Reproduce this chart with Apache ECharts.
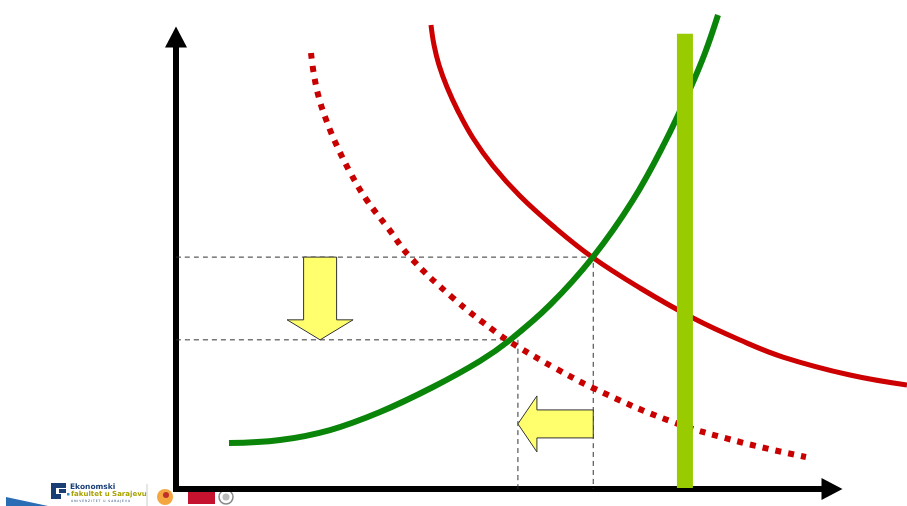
<!DOCTYPE html>
<html>
<head>
<meta charset="utf-8">
<title>Supply and demand shift</title>
<script src="https://cdn.jsdelivr.net/npm/echarts@6/dist/echarts.min.js"></script>
<style>
  html, body { margin: 0; padding: 0; background: #fff; }
  #chart { width: 907px; height: 506px; }
</style>
</head>
<body>
<div id="chart"></div>
<script>
// curves, in axis units (0..100 on both axes)
var demandOld = [
  [38.93, 102.65], [39.39, 98.23], [40.15, 93.81], [41.37, 88.94], [43.05, 83.63],
  [45.34, 77.65], [48.40, 71.46], [52.52, 64.82], [57.56, 58.19], [63.51, 51.33],
  [70.84, 44.47], [78.93, 37.83], [86.11, 32.96], [92.67, 29.20], [102.90, 25.22],
  [111.60, 23.01]
];
var demandNew = [
  [20.61, 96.46], [21.07, 91.59], [21.83, 86.50], [23.05, 81.19], [24.58, 75.88],
  [26.56, 70.13], [29.01, 64.16], [32.37, 57.74], [35.73, 51.33], [42.29, 42.26],
  [49.01, 34.51], [52.52, 31.19], [57.86, 26.77], [63.66, 22.35], [75.42, 15.04],
  [86.11, 10.40], [96.18, 7.08]
];
var supply = [
  [8.09, 10.18], [15.88, 10.84], [23.51, 13.05], [31.15, 17.04], [39.24, 22.57],
  [46.41, 28.32], [50.99, 32.96], [57.10, 40.71], [63.66, 51.33], [69.77, 63.94],
  [74.66, 76.77], [78.47, 88.50], [80.76, 96.46], [82.75, 104.87]
];
var fixedQty = [[77.7, 0.2], [77.7, 100.7]];

// equilibrium levels
var priceOld = 51.3, qtyOld = 63.7;
var priceNew = 33.0, qtyNew = 52.2;

var guideOld = [[0, priceOld], [qtyOld, priceOld], [qtyOld, 0]];
var guideNew = [[0, priceNew], [qtyNew, priceNew], [qtyNew, 0]];

// arrows: [tailX, tailY, tipX, tipY]
var shifts = [
  [22.0, priceOld, 22.0, priceNew],
  [qtyOld, 14.4, qtyNew, 14.4]
];
var arrowShape = [
  { sw: 16.5, hw: 33, head: 20 },
  { sw: 14, hw: 28, head: 19 }
];

// plot area reaches the right edge so the old demand curve can run past the arrow
var plotWidth = 907 - 176, axisWidth = 655;
var plotMaxX = 100 * plotWidth / axisWidth;

function renderArrow(params, api) {
  var a = api.coord([api.value(0), api.value(1)]);
  var b = api.coord([api.value(2), api.value(3)]);
  var s = arrowShape[params.dataIndex];
  var dx = b[0] - a[0], dy = b[1] - a[1];
  var len = Math.sqrt(dx * dx + dy * dy);
  var ux = dx / len, uy = dy / len;
  var nx = -uy, ny = ux;
  var bx = b[0] - ux * s.head, by = b[1] - uy * s.head;
  var pts = [
    [a[0] + nx * s.sw, a[1] + ny * s.sw],
    [bx + nx * s.sw, by + ny * s.sw],
    [bx + nx * s.hw, by + ny * s.hw],
    [b[0], b[1]],
    [bx - nx * s.hw, by - ny * s.hw],
    [bx - nx * s.sw, by - ny * s.sw],
    [a[0] - nx * s.sw, a[1] - ny * s.sw]
  ];
  return {
    type: 'polygon',
    shape: { points: pts },
    style: { fill: '#ffff6e', stroke: '#333', lineWidth: 1 }
  };
}

var chart = echarts.init(document.getElementById('chart'));

var axisStyle = {
  show: true,
  symbol: ['none', 'triangle'],
  symbolSize: [22, 21],
  lineStyle: { color: '#000', width: 6, cap: 'square' }
};
var hidden = { show: false };

function curve(data, color, width, type, z) {
  return {
    type: 'line', data: data, symbol: 'none', smooth: 0.4, clip: false, z: z,
    xAxisIndex: 1, yAxisIndex: 1,
    lineStyle: { color: color, width: width, type: type }
  };
}

var option = {
  animation: false,
  backgroundColor: '#fff',
  grid: [
    { left: 176, top: 37, right: 75, bottom: 17, containLabel: false, outerBoundsMode: 'none' },
    { left: 176, top: 37, right: 0, bottom: 17, containLabel: false, outerBoundsMode: 'none' }
  ],
  xAxis: [
    {
      gridIndex: 0, type: 'value', min: 0, max: 100, z: 0,
      axisLine: axisStyle,
      axisTick: hidden, axisLabel: hidden, splitLine: hidden
    },
    {
      gridIndex: 1, type: 'value', min: 0, max: plotMaxX, show: false
    }
  ],
  yAxis: [
    {
      gridIndex: 0, type: 'value', min: 0, max: 100, z: 0,
      axisLine: axisStyle,
      axisTick: hidden, axisLabel: hidden, splitLine: hidden
    },
    {
      gridIndex: 1, type: 'value', min: 0, max: 100, show: false
    }
  ],
  series: [
    curve(guideOld, '#333', 1, [5, 4], 1),
    curve(guideNew, '#333', 1, [5, 4], 1),
    curve(demandNew, '#c80000', 6, [6, 7], 2),
    curve(demandOld, '#cc0000', 5, 'solid', 2),
    curve(supply, '#0a850a', 6, 'solid', 3),
    {
      type: 'line', data: fixedQty, symbol: 'none', clip: false, z: 4,
      xAxisIndex: 1, yAxisIndex: 1,
      lineStyle: { color: '#99cc00', width: 16, cap: 'butt' }
    },
    {
      type: 'custom', data: shifts, renderItem: renderArrow, clip: false, z: 5,
      xAxisIndex: 1, yAxisIndex: 1,
      encode: { x: [0, 2], y: [1, 3] }
    }
  ],
  graphic: [
    { type: 'polygon', shape: { points: [[6, 497], [48, 506], [6, 506]] }, style: { fill: '#2a6db5' } },
    { type: 'rect', shape: { x: 51, y: 483, width: 15, height: 5 }, style: { fill: '#1b3f75' } },
    { type: 'rect', shape: { x: 51, y: 483, width: 5, height: 16 }, style: { fill: '#1b3f75' } },
    { type: 'rect', shape: { x: 51, y: 494, width: 10, height: 5 }, style: { fill: '#1b3f75' } },
    { type: 'rect', shape: { x: 59, y: 489, width: 7, height: 4 }, style: { fill: '#1b3f75' } },
    { type: 'rect', shape: { x: 67, y: 493, width: 2.5, height: 2.5 }, style: { fill: '#2a8fd0' } },
    {
      type: 'text', x: 70, y: 483,
      style: { text: 'Ekonomski', fill: '#1b3f75', font: 'bold 7.5px "DejaVu Sans"' }
    },
    {
      type: 'text', x: 71, y: 491,
      style: { text: 'fakultet u Sarajevu', fill: '#a9a300', font: 'bold 7px "DejaVu Sans"' }
    },
    {
      type: 'text', x: 71, y: 500,
      style: { text: 'U N I V E R Z I T E T   U   S A R A J E V U', fill: '#1b3f75', font: '3px "DejaVu Sans"' }
    },
    { type: 'line', shape: { x1: 147, y1: 484, x2: 147, y2: 506 }, style: { stroke: '#cccccc', lineWidth: 1 } },
    { type: 'circle', shape: { cx: 165, cy: 497, r: 8 }, style: { fill: '#f4a640' } },
    { type: 'circle', shape: { cx: 166, cy: 495, r: 3 }, style: { fill: '#c0302a' } },
    { type: 'rect', shape: { x: 188, y: 490, width: 27, height: 14 }, style: { fill: '#c4122f' } },
    { type: 'circle', shape: { cx: 226, cy: 497, r: 7 }, style: { fill: '#fff', stroke: '#888', lineWidth: 1.5 } },
    { type: 'circle', shape: { cx: 226, cy: 497, r: 3.5 }, style: { fill: '#bbb' } }
  ]
};

chart.setOption(option);
</script>
</body>
</html>
